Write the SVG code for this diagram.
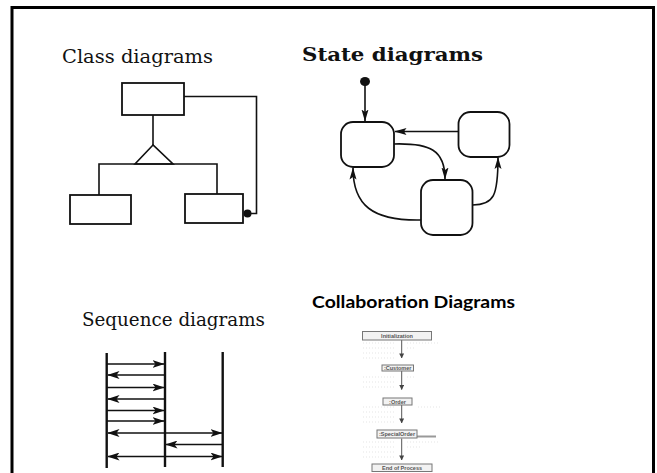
<svg xmlns="http://www.w3.org/2000/svg" width="657" height="473" viewBox="0 0 657 473">
  <style>
    .frame { fill: none; stroke: #000; stroke-width: 3; }
    .ln { fill: none; stroke: #111; stroke-width: 1.6; }
    .box { fill: #fff; stroke: #111; stroke-width: 1.8; }
    .state { fill: #fff; stroke: #111; stroke-width: 1.8; }
    .life { stroke: #111; stroke-width: 2.4; }
    .msg { fill: none; stroke: #111; stroke-width: 1.4; }
    .title { font-family: "DejaVu Serif", "Liberation Serif", serif; font-size: 19px; fill: #111; }
    .titleb { font-family: "DejaVu Serif", "Liberation Serif", serif; font-size: 19px; font-weight: bold; fill: #111; }
    .titles { font-family: Lato, "Open Sans", "Liberation Sans", sans-serif; font-size: 17px; font-weight: bold; fill: #000; }
    .cbox { fill: #f2f2f2; stroke: #777; stroke-width: 1; }
    .ctxt { font-family: "Liberation Sans", Arial, sans-serif; font-size: 5.5px; font-weight: bold; fill: #555; text-anchor: middle; }
    .cln { fill: none; stroke: #555; stroke-width: 1; }
    .dots { fill: none; stroke: #d4d4d4; stroke-width: 0.6; stroke-dasharray: 1 2; }
  </style>
  <defs>
    <marker id="seqHead" viewBox="0 0 12 8" refX="11.5" refY="4" markerWidth="12" markerHeight="8" markerUnits="userSpaceOnUse" orient="auto">
      <path d="M0,0 L12,4 L0,8 L3,4 Z" fill="#111"/>
    </marker>
    <marker id="stHead" viewBox="0 0 12 8" refX="11.5" refY="4" markerWidth="12" markerHeight="8" markerUnits="userSpaceOnUse" orient="auto">
      <path d="M0,0.5 L12,4 L0,7.5 L2.5,4 Z" fill="#111"/>
    </marker>
    <marker id="colHead" viewBox="0 0 6 6" refX="5.5" refY="3" markerWidth="5" markerHeight="5" markerUnits="userSpaceOnUse" orient="auto">
      <path d="M0,0 L6,3 L0,6 Z" fill="#444"/>
    </marker>
  </defs>

  <rect width="657" height="473" fill="#fff"/>
  <!-- outer frame, open at the bottom edge -->
  <path class="frame" d="M12,480 L12,7.5 L653.5,7.5 L653.5,480"/>

  <!-- Class diagram -->
  <text class="title" x="62" y="63" textLength="151" lengthAdjust="spacingAndGlyphs">Class diagrams</text>
  <g id="class-connectors">
    <path class="ln" d="M153,115 L153,145"/>
    <path class="ln" d="M153,145 L135,164 L173,164 Z" fill="#fff"/>
    <path class="ln" d="M99,195 L99,164 L217,164 L217,194"/>
    <path class="ln" d="M184,96.5 L256.5,96.5 L256.5,213.5 L250,213.5"/>
    <circle cx="247.5" cy="213.5" r="4" fill="#111"/>
  </g>
  <g id="class-super"><rect class="box" x="122" y="83" width="62" height="32"/></g>
  <g id="class-sub-left"><rect class="box" x="70" y="195" width="61" height="29"/></g>
  <g id="class-sub-right"><rect class="box" x="185" y="194" width="58" height="29"/></g>

  <!-- State diagram -->
  <text class="titleb" x="302" y="61" textLength="181" lengthAdjust="spacingAndGlyphs">State diagrams</text>
  <g id="state-connectors">
    <ellipse cx="365" cy="81.5" rx="5" ry="4.5" fill="#111"/>
    <path class="ln" d="M365,85 L365,121" marker-end="url(#stHead)"/>
    <path class="ln" d="M458,131.5 L395,131.5" marker-end="url(#stHead)"/>
    <path class="ln" d="M394,144 C430,143 445,150 445,179" marker-end="url(#stHead)"/>
    <path class="ln" d="M472.5,205 C494,205 498,196 498,157.5" marker-end="url(#stHead)"/>
    <path class="ln" d="M421,220 C372,221 353,205 353,168" marker-end="url(#stHead)"/>
  </g>
  <g id="state-a"><rect class="state" x="341" y="122" width="53" height="45" rx="12"/></g>
  <g id="state-b"><rect class="state" x="458.5" y="112" width="51" height="45" rx="12"/></g>
  <g id="state-c"><rect class="state" x="421" y="180" width="51.5" height="55" rx="12"/></g>

  <!-- Sequence diagram -->
  <text class="title" x="82" y="326" textLength="183" lengthAdjust="spacingAndGlyphs">Sequence diagrams</text>
  <g id="seq-lifelines">
    <line class="life" x1="106.7" y1="353" x2="106.7" y2="468"/>
    <line class="life" x1="165" y1="352" x2="165" y2="467"/>
    <line class="life" x1="222.7" y1="352" x2="222.7" y2="467"/>
  </g>
  <g id="seq-messages">
    <line class="msg" x1="107" y1="364" x2="164" y2="364" marker-end="url(#seqHead)"/>
    <line class="msg" x1="165" y1="375" x2="108" y2="375" marker-end="url(#seqHead)"/>
    <line class="msg" x1="107" y1="387.5" x2="164" y2="387.5" marker-end="url(#seqHead)"/>
    <line class="msg" x1="165" y1="399" x2="108" y2="399" marker-end="url(#seqHead)"/>
    <line class="msg" x1="107" y1="410.5" x2="164" y2="410.5" marker-end="url(#seqHead)"/>
    <line class="msg" x1="107" y1="421" x2="164" y2="421" marker-end="url(#seqHead)"/>
    <line class="msg" x1="165" y1="433" x2="108" y2="433" marker-end="url(#seqHead)"/>
    <line class="msg" x1="165" y1="433" x2="222" y2="433" marker-end="url(#seqHead)"/>
    <line class="msg" x1="222.7" y1="444.5" x2="166" y2="444.5" marker-end="url(#seqHead)"/>
    <line class="msg" x1="165" y1="456.5" x2="108" y2="456.5" marker-end="url(#seqHead)"/>
    <line class="msg" x1="165" y1="456.5" x2="222" y2="456.5" marker-end="url(#seqHead)"/>
  </g>

  <!-- Collaboration diagram -->
  <text class="titles" x="312" y="308" textLength="203" lengthAdjust="spacingAndGlyphs">Collaboration Diagrams</text>
  <!-- faint dotted guide rows behind the collaboration figure -->
  <path class="dots" d="M363,343 H396 M407,343 H440 M363,348 H396 M407,348 H415 M363,353 H396 M363,358 H396
                        M363,377 H396 M407,377 H415 M363,382 H396 M363,387 H396
                        M363,407 H396 M418,407 H442 M363,412 H396 M363,417 H396 M363,422 H396
                        M363,442 H396 M407,442 H440 M363,447 H396 M407,447 H420 M363,452 H396 M363,457 H396"/>
  <g id="collab-connectors">
    <line class="cln" x1="401.7" y1="340" x2="401.7" y2="358" marker-end="url(#colHead)"/>
    <line class="cln" x1="401.7" y1="371" x2="401.7" y2="389.5" marker-end="url(#colHead)"/>
    <line class="cln" x1="401.7" y1="405" x2="401.7" y2="423" marker-end="url(#colHead)"/>
    <line class="cln" x1="401.7" y1="438.5" x2="401.7" y2="460" marker-end="url(#colHead)"/>
    <line x1="417" y1="436.5" x2="436" y2="436.5" stroke="#999" stroke-width="2"/>
  </g>
  <g id="collab-init">
    <rect class="cbox" x="362.5" y="331.5" width="69" height="8.5" fill="#fafafa"/>
    <text class="ctxt" x="397" y="338">Initialization</text>
  </g>
  <g id="collab-customer">
    <rect class="cbox" x="382" y="365" width="31.5" height="6"/>
    <text class="ctxt" x="397.7" y="370">:Customer</text>
  </g>
  <g id="collab-order">
    <rect class="cbox" x="383" y="398" width="29" height="7"/>
    <text class="ctxt" x="397.5" y="403.5">:Order</text>
  </g>
  <g id="collab-special">
    <rect class="cbox" x="377" y="430" width="40" height="8"/>
    <text class="ctxt" x="397" y="436.3">:SpecialOrder</text>
  </g>
  <g id="collab-end">
    <rect class="cbox" x="372" y="464" width="60" height="7.5" fill="#fafafa"/>
    <text class="ctxt" x="402" y="470">End of Process</text>
  </g>
</svg>
